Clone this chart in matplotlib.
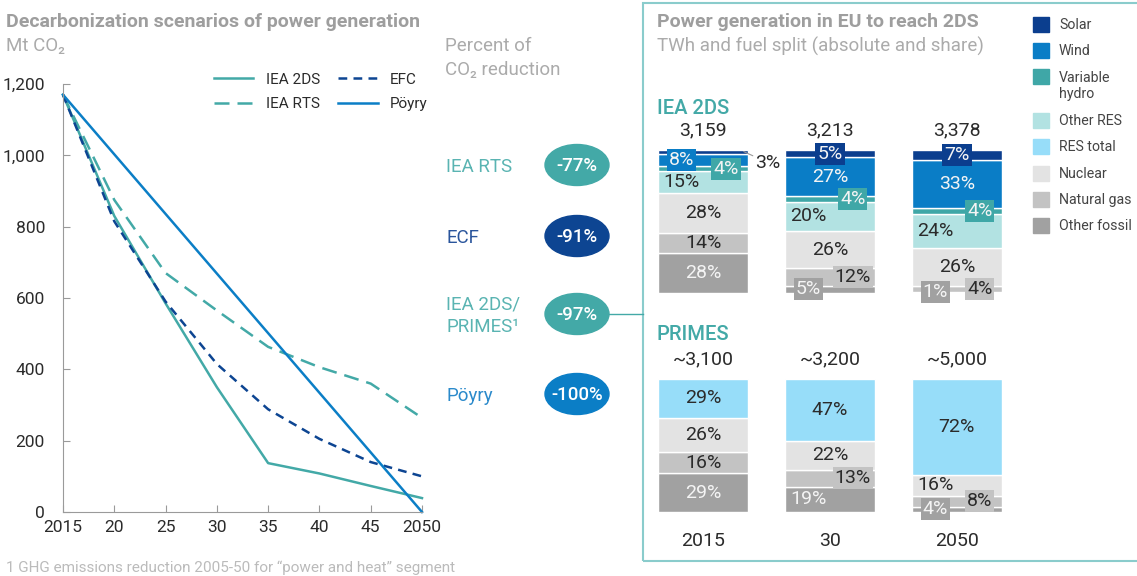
import numpy as np
import matplotlib.pyplot as plt
from matplotlib.patches import Ellipse, Rectangle
from matplotlib.lines import Line2D

plt.rcParams['font.family'] = ['Roboto', 'DejaVu Sans']

W, H = 1137, 576


def fx(px):
    return px / W


def fy(py):
    return 1 - py / H


# left chart, Mt CO2
years = [2015, 2020, 2025, 2030, 2035, 2040, 2045, 2050]
year_labels = ['2015', '20', '25', '30', '35', '40', '45', '2050']
iea_2ds = [1170, 830, 585, 350, 137, 108, 73, 39]
iea_rts = [1170, 875, 670, 565, 463, 406, 360, 264]
efc = [1170, 815, 590, 415, 288, 205, 140, 100]
poyry_years = [2015, 2050]
poyry = [1170, 0]

# percent of CO2 reduction
scenario_names = ['IEA RTS', 'ECF', 'IEA 2DS/\nPRIMES¹', 'Pöyry']
reductions = ['-77%', '-91%', '-97%', '-100%']

# right chart, fuel split in %
bar_years = ['2015', '30', '2050']
iea_totals = ['3,159', '3,213', '3,378']
iea_other_fossil = [28, 5, 1]
iea_gas = [14, 12, 4]
iea_nuclear = [28, 26, 26]
iea_other_res = [15, 20, 24]
iea_hydro = [4, 4, 4]
iea_wind = [8, 27, 33]
iea_solar = [3, 5, 7]

primes_totals = ['~3,100', '~3,200', '~5,000']
primes_other_fossil = [29, 19, 4]
primes_gas = [16, 13, 8]
primes_nuclear = [26, 22, 16]
primes_res_total = [29, 47, 72]

legend_names = ['Solar', 'Wind', 'Variable\nhydro', 'Other RES', 'RES total',
                'Nuclear', 'Natural gas', 'Other fossil']

colors = {
    'Solar': '#0B3E8E',
    'Wind': '#0A7DC6',
    'Variable\nhydro': '#3FA7A7',
    'Other RES': '#B2E2E2',
    'RES total': '#97DDF9',
    'Nuclear': '#E3E3E3',
    'Natural gas': '#C3C3C3',
    'Other fossil': '#A1A1A1',
}
white_text = ['Solar', 'Wind', 'Variable\nhydro', 'Other fossil']

teal = '#43A9A7'
dark_blue = '#0D4592'
blue = '#0B7EC6'
grey_title = '#9E9E9E'
grey_sub = '#ABABAB'
ink = '#2B2B2B'

fig = plt.figure(figsize=(W / 100, H / 100), dpi=100)

# ---------------- left line chart
ax = fig.add_axes([fx(63), fy(512), fx(359), 428 / H])
ax.plot(years, iea_2ds, color=teal, lw=1.8, label='IEA 2DS', clip_on=False)
ax.plot(years, iea_rts, color=teal, lw=1.8, ls=(0, (6, 3.2)), label='IEA RTS', clip_on=False)
ax.plot(years, efc, color=dark_blue, lw=1.8, ls=(0, (3.5, 2.5)), label='EFC', clip_on=False)
ax.plot(poyry_years, poyry, color=blue, lw=1.8, label='Pöyry', clip_on=False)
ax.set_xlim(2015, 2050)
ax.set_ylim(0, 1200)
ax.set_xticks(years)
ax.set_xticklabels(year_labels)
ax.set_yticks(range(0, 1201, 200))
ax.set_yticklabels([f'{v:,}' for v in range(0, 1201, 200)])
for s in ['top', 'right']:
    ax.spines[s].set_visible(False)
for s in ['left', 'bottom']:
    ax.spines[s].set_color('#9A9A9A')
ax.tick_params(direction='in', length=5, color='#9A9A9A', labelcolor=ink, labelsize=12.5)
ax.tick_params(axis='y', pad=13)
ax.tick_params(axis='x', pad=6)
ax.patch.set_alpha(0)

fig.legend(loc='upper left', bbox_to_anchor=(fx(200), fy(59)), ncol=2, frameon=False,
           handlelength=2.6, columnspacing=1.2, labelspacing=0.7, fontsize=11,
           labelcolor=ink)

fig.text(fx(6), fy(22), 'Decarbonization scenarios of power generation', fontsize=14,
         fontweight='bold', color=grey_title, va='center')
fig.text(fx(6), fy(46), 'Mt CO₂', fontsize=13.5, color=grey_sub, va='center')
fig.text(fx(445), fy(58), 'Percent of\nCO₂ reduction', fontsize=13.5, color=grey_sub,
         va='center', linespacing=1.4)

# ---------------- reduction bubbles
name_colors = ['#5AB4B2', '#2A559C', '#5AB4B2', '#2B8ACB']
bubble_colors = [teal, dark_blue, teal, blue]
bubble_y = [165, 236, 314, 394]
for name, red, ncol, bcol, by in zip(scenario_names, reductions, name_colors,
                                     bubble_colors, bubble_y):
    fig.text(fx(446), fy(by + 2), name, fontsize=13.5, color=ncol, va='center',
             linespacing=1.3)
    fig.add_artist(Ellipse((fx(577), fy(by)), 64 / W, 41 / H, color=bcol,
                           transform=fig.transFigure))
    fig.text(fx(577), fy(by + 1), red, fontsize=13.5, fontweight='medium', color='white',
             ha='center', va='center')

fig.add_artist(Line2D([fx(609), fx(643)], [fy(314), fy(314)], color=teal, lw=1,
                      transform=fig.transFigure))
fig.add_artist(Rectangle((fx(643), fy(561)), (W + 20 - 643) / W, 558 / H, fill=False,
                         ec='#8ACCCC', lw=1.5, transform=fig.transFigure))

# ---------------- right panel
fig.text(fx(657), fy(22), 'Power generation in EU to reach 2DS', fontsize=14,
         fontweight='bold', color=grey_title, va='center')
fig.text(fx(657), fy(46), 'TWh and fuel split (absolute and share)', fontsize=13.5,
         color=grey_sub, va='center')
fig.text(fx(657), fy(108), 'IEA 2DS', fontsize=14.5, fontweight='medium', color=teal,
         va='center')
fig.text(fx(657), fy(334), 'PRIMES', fontsize=14.5, fontweight='medium', color=teal,
         va='center')

legend_y = [25, 51, 77, 121, 147, 174, 200, 226]
for name, ly in zip(legend_names, legend_y):
    fig.add_artist(Rectangle((fx(1033), fy(ly + 7)), 16 / W, 15 / H, color=colors[name],
                             transform=fig.transFigure))
    ty = ly + 9 if '\n' in name else ly
    fig.text(fx(1059), fy(ty), name, fontsize=10.2, color='#444444', va='center',
             linespacing=1.25)

offsets = {'c': 0.0, 'l': -0.17, 'r': 0.18}


def draw_stack(ax, fuels, shares, layout, totals):
    raw = np.array(shares, dtype=float)
    norm = raw / raw.sum(axis=0) * 100
    x = np.arange(raw.shape[1])
    bottom = np.zeros(raw.shape[1])
    for k, fuel in enumerate(fuels):
        ax.bar(x, norm[k], 0.71, bottom=bottom, color=colors[fuel], edgecolor='white',
               linewidth=1)
        tcol = '#F4F4F4' if fuel in white_text else ink
        for i in x:
            mid = bottom[i] + norm[k][i] / 2
            code = layout[k][i]
            txt = f'{int(raw[k][i])}%'
            if code == 'out':
                ax.annotate(txt, (0.31, 99.3), xytext=(9.5, -8.5), textcoords='offset points',
                            fontsize=14, color=ink, va='center', ha='left',
                            arrowprops=dict(arrowstyle='-', color='#9A9A9A', lw=0.8,
                                            shrinkA=0, shrinkB=1))
                continue
            bbox = None
            if code.endswith('b'):
                bbox = dict(boxstyle='square,pad=0.1', fc=colors[fuel], ec='none')
            ax.text(i + offsets[code[0]], mid, txt, fontsize=14, color=tcol, ha='center',
                    va='center', bbox=bbox)
        bottom += norm[k]
    for i, t in zip(x, totals):
        ax.annotate(t, (i, 100), xytext=(0, 14), textcoords='offset points', fontsize=14,
                    color=ink, ha='center', va='center')
    ax.set_xlim(-0.355, 2.355)
    ax.set_ylim(0, 100)
    ax.axis('off')


ax_iea = fig.add_axes([fx(658), fy(293), 344 / W, 143 / H])
draw_stack(ax_iea,
           ['Other fossil', 'Natural gas', 'Nuclear', 'Other RES', 'Variable\nhydro', 'Wind', 'Solar'],
           [iea_other_fossil, iea_gas, iea_nuclear, iea_other_res, iea_hydro, iea_wind, iea_solar],
           [['c', 'lb', 'lb'], ['c', 'rb', 'rb'], ['c', 'c', 'c'], ['l', 'l', 'l'],
            ['rb', 'rb', 'rb'], ['lb', 'c', 'c'], ['out', 'cb', 'cb']],
           iea_totals)

ax_pr = fig.add_axes([fx(658), fy(512), 344 / W, 133 / H])
draw_stack(ax_pr,
           ['Other fossil', 'Natural gas', 'Nuclear', 'RES total'],
           [primes_other_fossil, primes_gas, primes_nuclear, primes_res_total],
           [['c', 'l', 'lb'], ['c', 'rb', 'rb'], ['c', 'c', 'l'], ['c', 'c', 'c']],
           primes_totals)
for i, yl in enumerate(bar_years):
    ax_pr.annotate(yl, (i, 0), xytext=(0, -21), textcoords='offset points', fontsize=14,
                   color=ink, ha='center', va='center')

fig.text(fx(6), fy(568), '1 GHG emissions reduction 2005-50 for “power and heat” segment',
         fontsize=11, color='#BBBBBB', va='center')

fig.savefig('out.png', dpi=100)
